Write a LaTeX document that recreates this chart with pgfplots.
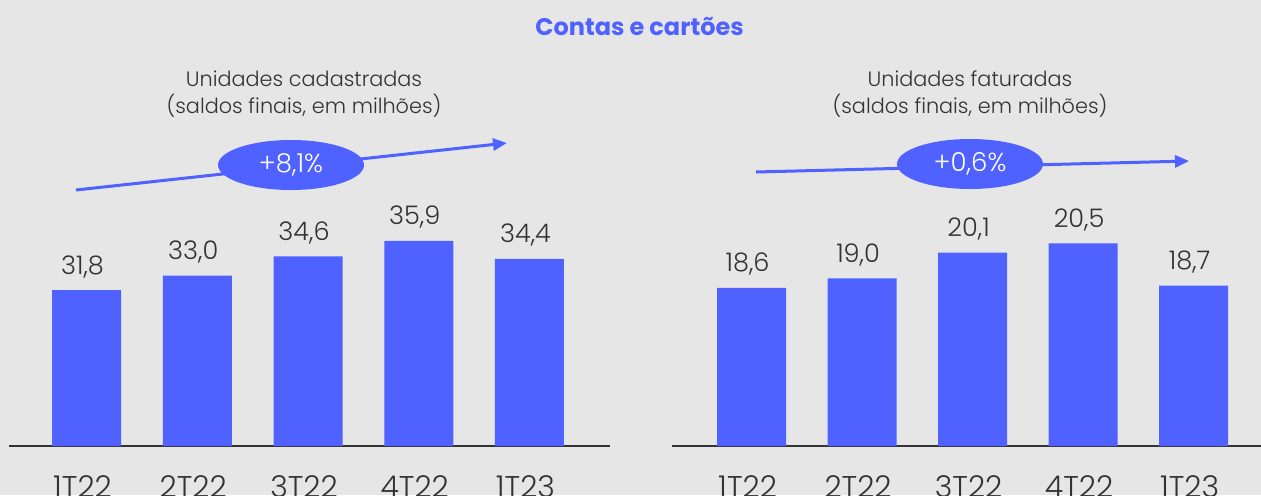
\documentclass[border=0pt]{standalone}
\usepackage{fontspec}
\setmainfont{Poppins}
\newfontfamily\lightfont{Poppins Light}
\usepackage{pgfplots}
\pgfplotsset{compat=1.18}
\usetikzlibrary{arrows.meta}
\definecolor{barblue}{RGB}{79,97,255}
\definecolor{bg}{RGB}{230,230,230}
\definecolor{txt}{RGB}{51,51,51}
\pgfplotsset{panel/.style={
  scale only axis, height=125pt, anchor=south west,
  axis x line=bottom, axis y line=none,
  x axis line style={-, draw=txt, line width=1pt},
  xtick={0,1,2,3,4}, xticklabels={1T22,2T22,3T22,4T22,1T23},
  major tick length=0pt,
  xticklabel style={font=\lightfont\fontsize{15}{17}\selectfont, text=txt, anchor=north, inner sep=0pt, yshift=-14.5pt, xshift=-2pt},
  ybar, bar width=34.5pt,
  nodes near coords,
  nodes near coords style={font=\lightfont\fontsize{12.8}{14}\selectfont, text=txt, anchor=base, inner sep=0pt, yshift=8pt, xshift=-2pt},
  /pgf/number format/.cd, use comma, fixed, fixed zerofill, precision=1, assume math mode=true,
  /pgfplots/.cd, clip=false,
}}
\begin{document}
\begin{tikzpicture}
\path[use as bounding box] (0,0) rectangle (630.5pt,247.5pt);
\clip (0,0) rectangle (630.5pt,247.5pt);
\fill[bg] (0,0) rectangle (630.5pt,247.5pt);

\node[font=\bfseries\fontsize{12}{14}\selectfont, text=barblue] at (319.75pt,234pt) {Contas e cartões};

\node[font=\lightfont\fontsize{10.4}{13.5}\selectfont, text=txt, align=center] at (152pt,200.5pt) {Unidades cadastradas\\(saldos finais, em milhões)};
\node[font=\lightfont\fontsize{10.4}{13.5}\selectfont, text=txt, align=center] at (485pt,200.5pt) {Unidades faturadas\\(saldos finais, em milhões)};

\draw[barblue, line width=1.5pt, -{Triangle[length=7pt,width=6pt]}] (38pt,152.5pt) -- (253.5pt,176pt);
\fill[barblue] (145.5pt,165pt) ellipse [x radius=36.5pt, y radius=12.5pt];
\node[font=\lightfont\fontsize{13}{15}\selectfont, text=white] at (145.5pt,165pt) {+8,1\%};

\draw[barblue, line width=1.5pt, -{Triangle[length=7pt,width=6pt]}] (378pt,161.5pt) -- (594.5pt,167pt);
\fill[barblue] (485pt,165.5pt) ellipse [x radius=36.5pt, y radius=12.5pt];
\node[font=\lightfont\fontsize{13}{15}\selectfont, text=white] at (485pt,165.5pt) {+0,6\%};

\begin{axis}[panel, at={(4.5pt,24.5pt)}, width=300.5pt, xmin=-0.7, xmax=4.727, ymin=18.84, ymax=39.62]
\addplot[fill=barblue, draw=none] coordinates {(0,31.8) (1,33.0) (2,34.6) (3,35.9) (4,34.4)};
\end{axis}

\begin{axis}[panel, at={(336pt,24.5pt)}, width=294.5pt, xmin=-0.72, xmax=4.61, ymin=11.85, ymax=22.52]
\addplot[fill=barblue, draw=none] coordinates {(0,18.6) (1,19.0) (2,20.1) (3,20.5) (4,18.7)};
\end{axis}
\end{tikzpicture}
\end{document}
